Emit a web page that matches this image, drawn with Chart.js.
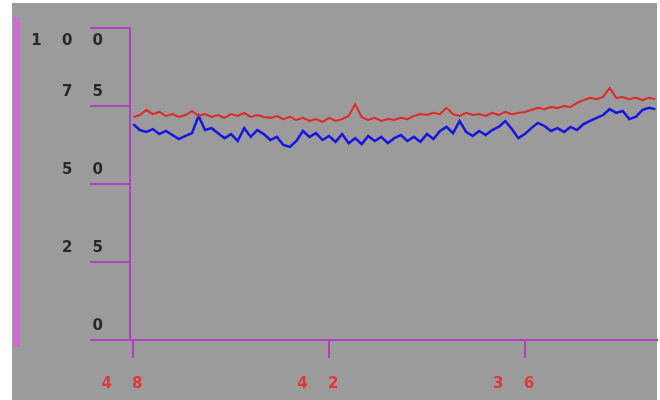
<!DOCTYPE html>
<html><head><meta charset="utf-8">
<script src="https://cdn.jsdelivr.net/npm/chart.js@4"></script>
<style>html,body{margin:0;padding:0;background:#fff;overflow:hidden}canvas{display:block}</style>
</head><body>
<canvas id="c" width="660" height="400"></canvas>
<script>
const times = [
  48,47.8,47.6,47.4,47.2,47,46.8,46.6,46.4,46.2,
  46,45.8,45.6,45.4,45.2,45,44.8,44.6,44.4,44.2,
  44,43.8,43.6,43.4,43.2,43,42.8,42.6,42.4,42.2,
  42,41.8,41.6,41.4,41.2,41,40.8,40.6,40.4,40.2,
  40,39.8,39.6,39.4,39.2,39,38.8,38.6,38.4,38.2,
  38,37.8,37.6,37.4,37.2,37,36.8,36.6,36.4,36.2,
  36,35.8,35.6,35.4,35.2,35,34.8,34.6,34.4,34.2,
  34,33.8,33.6,33.4,33.2,33,32.8,32.6,32.4,32.2,
  32
];
const redSeries = [
  71.5,72.1,73.7,72.4,73.1,71.8,72.4,71.5,72.1,73.4,
  71.8,72.4,71.5,72.1,71.2,72.4,71.8,72.8,71.5,72.1,
  71.5,71.2,71.8,70.8,71.5,70.5,71.2,70.2,70.8,69.9,
  71.2,70.2,70.8,71.8,75.6,71.5,70.5,71.2,70.2,70.8,
  70.5,71.2,70.8,71.8,72.4,72.1,72.8,72.4,74.4,72.4,
  71.8,72.8,72.1,72.4,71.8,72.8,72.1,73.1,72.4,72.8,
  73.1,73.7,74.4,74.0,74.7,74.4,75.0,74.7,76.0,76.9,
  77.6,77.2,77.9,80.8,77.6,77.9,77.2,77.6,76.9,77.6,
  77.2
];
const blueSeries = [
  69.2,67.3,66.7,67.6,66.0,67.0,65.7,64.4,65.4,66.3,
  71.8,67.3,67.9,66.3,64.7,66.0,63.8,67.9,65.1,67.3,
  66.0,64.1,65.1,62.5,61.9,63.8,67.0,65.1,66.3,64.1,
  65.4,63.5,66.0,63.1,64.7,62.8,65.4,63.8,65.1,63.1,
  64.7,65.7,63.8,65.1,63.5,66.0,64.4,67.0,68.3,66.3,
  70.2,66.7,65.4,67.0,65.7,67.3,68.3,70.2,67.6,64.7,
  66.0,67.9,69.6,68.6,67.0,67.9,66.7,68.3,67.3,69.2,
  70.2,71.2,72.1,74.0,72.8,73.4,70.8,71.5,73.7,74.4,
  74.0
];
const xTickValues = [48, 42, 36];
const yTickValues = [0, 25, 50, 75, 100];

const spaced = v => String(v).split('').join(' ');
const axisColor = '#b040c0';
const tickFont = {family: 'DejaVu Sans', size: 15, weight: 'bold'};

const backdrop = {
  id: 'backdrop',
  beforeDraw(chart) {
    const ctx = chart.ctx;
    ctx.save();
    ctx.fillStyle = '#ffffff';
    ctx.fillRect(0, 0, chart.width, chart.height);
    ctx.fillStyle = '#9b9b9b';
    ctx.fillRect(12, 3, 645, 397);
    ctx.fillStyle = '#d468d8';
    ctx.fillRect(13, 18, 7, 329);
    ctx.restore();
    ctx.letterSpacing = '7.5px';
  },
  afterDraw(chart) { chart.ctx.letterSpacing = '0px'; }
};

new Chart(document.getElementById('c'), {
  type: 'line',
  data: {
    datasets: [
      {data: times.map((t, i) => ({x: t, y: redSeries[i]})), borderColor: '#e02828', borderWidth: 2, pointRadius: 0, tension: 0},
      {data: times.map((t, i) => ({x: t, y: blueSeries[i]})), borderColor: '#1616e0', borderWidth: 2.5, pointRadius: 0, tension: 0}
    ]
  },
  options: {
    responsive: false,
    animation: false,
    devicePixelRatio: 1,
    layout: {padding: {top: 28, right: 3, left: 0, bottom: 0}},
    plugins: {legend: {display: false}, tooltip: {enabled: false}},
    scales: {
      x: {
        type: 'linear', reverse: true, min: 31.95, max: 48.1,
        afterBuildTicks: s => { s.ticks = xTickValues.map(v => ({value: v})); },
        afterFit: s => { s.height = 60; s.paddingLeft = 0; s.paddingRight = 0; },
        border: {display: true, color: axisColor, width: 2},
        grid: {drawOnChartArea: false, drawTicks: true, tickLength: 18, color: axisColor, lineWidth: 2},
        ticks: {color: '#e03838', font: tickFont, padding: 17, labelOffset: -7.5, maxRotation: 0, autoSkip: false, callback: v => spaced(v)}
      },
      y: {
        min: 0, max: 100,
        afterBuildTicks: s => { s.ticks = yTickValues.map(v => ({value: v})); },
        afterFit: s => { s.width = 130; s.paddingTop = 0; s.paddingBottom = 0; },
        border: {display: true, color: axisColor, width: 2},
        grid: {drawOnChartArea: false, drawTicks: true, tickLength: 40, color: axisColor, lineWidth: 2},
        ticks: {color: '#282828', font: tickFont, padding: -20.5, labelOffset: -14, autoSkip: false,
          callback: v => v === 100 ? ['', '', '', spaced(v)] : spaced(v)}
      }
    }
  },
  plugins: [backdrop]
});
</script>
</body></html>
